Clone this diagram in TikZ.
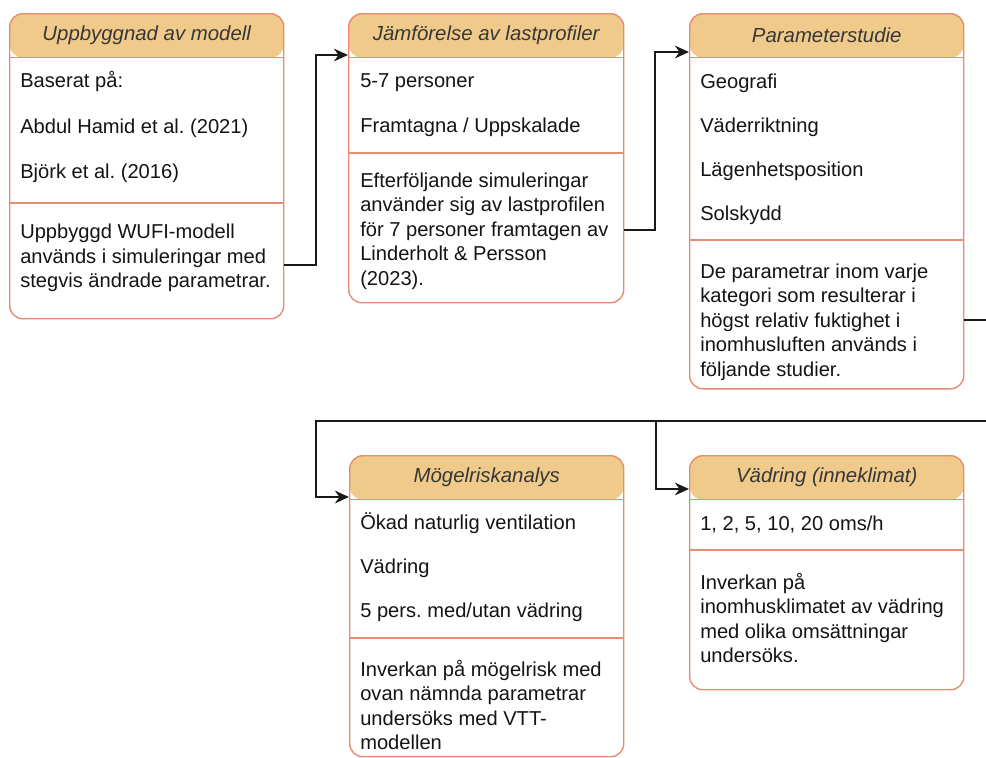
\documentclass[tikz,border=0pt]{standalone}
\usepackage{fontspec}
\setmainfont{Liberation Sans}
\usepackage{xcolor}
\usepackage{tikz}
\usetikzlibrary{arrows.meta}
\frenchspacing

\definecolor{headfill}{RGB}{240,202,138}
\definecolor{boxline}{RGB}{231,140,112}
\definecolor{headtext}{RGB}{55,55,55}
\definecolor{bodytext}{RGB}{20,20,20}
\definecolor{connline}{RGB}{25,25,25}

\begin{document}
\begin{tikzpicture}[x=0.025cm, y=-0.025cm, >={Stealth[length=10pt,width=9pt]},
    font=\fontsize{14.3}{17.4}\selectfont,
    studybox/.style={draw=boxline, line width=1pt, fill=white, rounded corners=0.33cm,
        anchor=north west, inner sep=0pt,
        path picture={\fill[headfill] (path picture bounding box.north west)
            rectangle ([yshift=-1.1cm]path picture bounding box.north east);
            \draw[boxline, line width=1pt] ([yshift=-1.1cm]path picture bounding box.north west)
            -- ([yshift=-1.1cm]path picture bounding box.north east);}},
    sep/.style={draw=boxline, line width=1pt},
    title/.style={font=\fontsize{14.5}{16}\selectfont\itshape, text=headtext, inner sep=0pt},
    item/.style={anchor=west, inner sep=0pt, text=bodytext, text height=10pt, text depth=0pt},
    para/.style={anchor=west, inner sep=0pt, text=bodytext, align=left},
    conn/.style={->, draw=connline, line width=1.1pt}]

    % Picture size
    \useasboundingbox (0,0) rectangle (986,757);

    % Boxes
    \node[studybox, minimum width=6.85cm, minimum height=7.625cm] (model) at (9,13) {};
    \node[studybox, minimum width=6.875cm, minimum height=7.225cm] (load) at (348,13) {};
    \node[studybox, minimum width=6.85cm, minimum height=9.375cm] (param) at (689,13) {};
    \node[studybox, minimum width=6.85cm, minimum height=7.525cm] (mold) at (349,455) {};
    \node[studybox, minimum width=6.85cm, minimum height=5.85cm] (vent) at (689,455) {};

    % Dividers
    \draw[sep] ([yshift=-4.75cm]model.north west) -- ([yshift=-4.75cm]model.north east);
    \draw[sep] ([yshift=-3.5cm]load.north west) -- ([yshift=-3.5cm]load.north east);
    \draw[sep] ([yshift=-5.675cm]param.north west) -- ([yshift=-5.675cm]param.north east);
    \draw[sep] ([yshift=-4.575cm]mold.north west) -- ([yshift=-4.575cm]mold.north east);
    \draw[sep] ([yshift=-2.375cm]vent.north west) -- ([yshift=-2.375cm]vent.north east);

    % Titles
    \node[title] (modeltitle) at ([yshift=-0.55cm]model.north) {Uppbyggnad av modell};
    \node[title] (loadtitle) at ([yshift=-0.55cm]load.north) {Jämförelse av lastprofiler};
    \node[title] (paramtitle) at ([yshift=-0.55cm]param.north) {Parameterstudie};
    \node[title] (moldtitle) at ([yshift=-0.55cm]mold.north) {Mögelriskanalys};
    \node[title] (venttitle) at ([yshift=-0.55cm]vent.north) {Vädring (inneklimat)};

    % Uppbyggnad av modell
    \node[item] (m1) at (20,80) {Baserat på:};
    \node[item] (m2) at (20,126) {Abdul Hamid et al. (2021)};
    \node[item] (m3) at (20,171) {Björk et al. (2016)};
    \node[para] (m4) at (20,258) {Uppbyggd WUFI-modell\\används i simuleringar med\\stegvis ändrade parametrar.};

    % Jämförelse av lastprofiler
    \node[item] (l1) at (360,80) {5-7 personer};
    \node[item] (l2) at (360,125) {Framtagna / Uppskalade};
    \node[para] (l3) at (360,231) {Efterföljande simuleringar\\använder sig av lastprofilen\\för 7 personer framtagen av\\Linderholt \& Persson\\(2023).};

    % Parameterstudie
    \node[item] (p1) at (700,81) {Geografi};
    \node[item] (p2) at (700,125) {Väderriktning};
    \node[item] (p3) at (700,169) {Lägenhetsposition};
    \node[item] (p4) at (700,213) {Solskydd};
    \node[para] (p5) at (700,322) {De parametrar inom varje\\kategori som resulterar i\\högst relativ fuktighet i\\inomhusluften används i\\följande studier.};

    % Mögelriskanalys
    \node[item] (g1) at (360,522) {Ökad naturlig ventilation};
    \node[item] (g2) at (360,566) {Vädring};
    \node[item] (g3) at (360,610) {5 pers. med/utan vädring};
    \node[para] (g4) at (360,705) {Inverkan på mögelrisk med\\ovan nämnda parametrar\\undersöks med VTT-\\modellen};

    % Vädring (inneklimat)
    \node[item] (v1) at (700,523) {1, 2, 5, 10, 20 oms/h};
    \node[para] (v2) at (700,618) {Inverkan på\\inomhusklimatet av vädring\\med olika omsättningar\\undersöks.};

    % Connectors
    \coordinate (k1) at (316,265);
    \coordinate (k2) at (655,230);
    \coordinate (k3) at (1000,320);
    \coordinate (k4) at (316,421);
    \coordinate (k5) at (656,421);
    \draw[conn] (model.east |- k1) -- (k1) |- ([yshift=-1.05cm]load.north west);
    \draw[conn] (load.east |- k2) -- (k2) |- ([yshift=-0.975cm]param.north west);
    \draw[conn] (param.east |- k3) -- (k3) |- (k4) |- ([yshift=-1.05cm]mold.north west);
    \draw[conn] (k5) |- ([yshift=-0.85cm]vent.north west);

\end{tikzpicture}
\end{document}
